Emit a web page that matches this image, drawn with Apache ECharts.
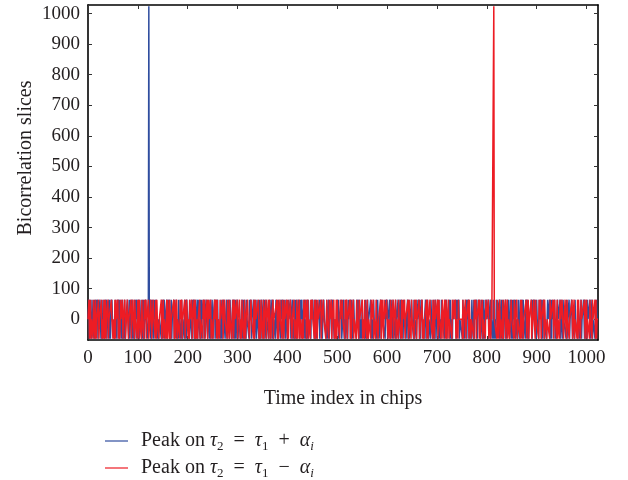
<!DOCTYPE html>
<html>
<head>
<meta charset="utf-8">
<script src="https://cdn.jsdelivr.net/npm/echarts@6/dist/echarts.min.js"></script>
<style>
  html, body { margin: 0; padding: 0; background: #fff; }
  #main { width: 628px; height: 480px; }
</style>
</head>
<body>
<div id="main"></div>
<script>
// tick labels
var xTicks = [0, 100, 200, 300, 400, 500, 600, 700, 800, 900, 1000];
var yTicks = [0, 100, 200, 300, 400, 500, 600, 700, 800, 900, 1000];

var seriesNames = ['Peak on τ2 = τ1 + αi', 'Peak on τ2 = τ1 − αi'];

// bicorrelation slice, peak at tau2 = tau1 + alpha_i (index 0..1023)
var bluePeak = [
  0,0,64,-64,64,0,0,-64, 64,0,0,0,-64,64,-64,-64, 64,0,0,64,-64,0,0,0, 64,64,-64,0,0,-64,64,0,
  0,-64,64,0,0,64,-64,0, 0,0,64,-64,64,-64,0,0, 64,0,0,0,0,-64,-64,64, 0,0,-64,64,0,0,64,-64,
  64,0,0,-64,64,-64,0,0, -64,64,64,-64,0,0,0,64, 0,0,-64,64,-64,0,0,0, 64,-64,0,0,-64,64,-64,64,
  0,0,64,-64,0,0,64,-64, 64,0,0,0,-64,64,0,-64, 64,-64,0,0,64,0,0,0, -64,0,1024,0,0,64,-64,64,
  -64,64,0,0,-64,64,0,0, 0,64,64,-64,0,0,-64,0, 0,0,0,-64,64,-64,64,0, 0,64,-64,0,0,0,64,-64,
  64,0,0,64,-64,0,-64,64, -64,0,0,0,64,-64,0,0, 0,64,-64,0,0,-64,64,0, 0,0,-64,-64,64,-64,0,0,
  0,-64,64,0,64,-64,64,64, 0,0,0,-64,64,0,0,0, -64,64,0,0,64,-64,0,64, -64,0,0,64,-64,64,0,0,
  0,-64,64,-64,64,0,0,0, 64,-64,0,0,0,64,0,0, -64,64,0,0,-64,64,-64,0, 0,64,-64,0,0,0,64,-64,
  -64,64,0,0,64,-64,0,0, 0,0,-64,64,64,-64,0,0, 64,0,0,-64,0,0,64,-64, 0,0,64,0,-64,64,0,0,
  0,-64,64,0,0,64,-64,-64, 64,-64,0,0,64,-64,0,0, 0,0,-64,0,0,64,-64,0, 64,-64,64,0,0,-64,64,0,
  0,0,0,-64,64,0,0,64, -64,0,0,0,64,64,-64,64, 0,0,-64,64,0,0,0,-64, 64,-64,0,0,64,-64,0,0,
  64,-64,64,0,0,-64,64,0, 0,0,-64,0,0,64,-64,0, 0,64,-64,64,-64,0,0,0, -64,64,0,0,0,-64,64,0,
  0,0,-64,64,0,0,64,-64, 64,0,0,0,-64,64,0,0, -64,-64,64,0,0,0,64,-64, 0,0,64,-64,0,0,-64,64,
  0,-64,64,-64,0,0,64,0, 0,-64,64,0,0,64,-64,0, 0,0,64,-64,0,0,-64,64, 64,-64,64,0,0,0,0,-64,
  64,0,0,64,0,0,-64,64, 0,-64,64,-64,-64,0,0,0, 64,-64,0,0,0,64,-64,0, 0,64,0,0,0,0,-64,64,
  -64,0,0,64,-64,0,0,0, 64,-64,64,64,0,0,-64,0, 0,0,-64,64,0,0,64,-64, 0,0,0,0,64,-64,-64,0,
  0,64,-64,0,0,-64,64,0, 0,-64,64,0,0,0,0,64, -64,64,-64,0,0,64,0,0, 0,0,-64,64,0,0,64,-64,
  0,64,-64,0,0,-64,64,0, 0,0,0,-64,-64,64,-64,0, 0,64,-64,0,0,0,0,64, 64,-64,0,0,-64,64,0,0,
  0,0,-64,64,-64,64,0,0, -64,0,0,64,-64,0,64,0, 0,0,0,0,-64,64,0,0, 64,-64,0,0,0,64,-64,-64,
  64,0,0,-64,64,0,0,0, -64,64,-64,0,0,0,64,-64, 0,0,64,-64,64,64,0,0, -64,64,0,0,0,0,-64,0,
  0,64,-64,0,64,-64,0,0, 0,64,0,0,0,-64,64,-64, 0,0,0,-64,64,0,0,0, 64,-64,64,-64,0,0,64,0,
  0,0,-64,0,0,64,-64,0, 0,64,64,-64,0,0,0,-64, 64,0,0,0,-64,64,-64,0, 0,64,-64,0,0,0,64,-64,
  64,-64,0,0,-64,64,0,0, 0,0,0,-64,64,0,0,64, -64,0,0,0,0,64,-64,64, -64,0,0,-64,64,0,0,0,
  0,0,64,-64,-64,64,0,0, 64,-64,0,0,0,0,0,-64, 64,0,0,-64,0,0,0,64, -64,64,0,0,64,-64,0,0,
  0,-64,64,0,0,-64,64,-64, 64,0,0,0,64,-64,0,0, 0,64,0,0,-64,64,0,0, -64,-64,64,-64,0,0,0,64,
  0,0,0,64,-64,0,0,64, -64,0,0,0,-64,64,64,-64, 0,0,-64,64,0,0,0,0, 0,64,-64,0,0,64,-64,0,
  -64,64,-64,0,0,0,64,-64, 0,0,0,64,0,0,-64,64, 0,0,-64,64,-64,64,0,0, 0,64,-64,0,0,0,-64,64,
  0,0,-64,64,0,0,0,64, -64,64,0,0,0,-64,64,0, 0,64,-64,0,-64,0,0,0, 0,0,64,-64,-64,64,0,0,
  64,0,0,-64,64,0,0,0, -64,64,0,0,0,64,-64,64, -64,0,0,64,-64,0,0,0, -64,0,64,0,0,0,64,-64,
  -64,64,-64,64,0,0,0,0, 64,-64,0,-64,0,0,64,0, 0,0,0,64,-64,64,0,0, -64,64,0,0,0,0,0,-64,
  64,-64,0,0,0,64,-64,0, 0,0,64,64,-64,0,0,0, -64,64,0,0,0,0,-64,64, 0,0,-64,0,0,64,-64,0,
  0,0,64,0,-64,64,-64,0, 0,-64,64,0,0,0,0,64, -64,0,0,64,-64,0,0,0, 0,-64,64,-64,64,0,0,0
];

// bicorrelation slice, peak at tau2 = tau1 - alpha_i
var redPeak = [
  0,0,64,-64,0,64,-64,0, 0,0,-64,64,0,0,-64,64, 64,-64,0,0,0,64,-64,0, 0,0,0,64,-64,0,0,-64,
  64,0,-64,64,-64,0,0,0, 64,-64,0,0,0,0,0,64, 0,0,-64,0,0,-64,64,-64, 64,0,0,0,64,-64,0,0,
  -64,64,0,0,0,64,-64,0, 0,0,64,-64,-64,0,0,64, 0,-64,0,0,0,0,64,-64, 0,0,64,0,0,-64,64,0,
  0,0,-64,0,64,64,-64,64, 0,0,0,-64,64,0,0,0, -64,64,0,0,64,-64,0,0, 0,64,-64,-64,0,0,64,0,
  -64,0,0,64,0,0,0,-64, 64,-64,64,0,0,0,-64,0, 0,0,0,64,-64,0,0,64, -64,0,0,0,-64,0,64,-64,
  64,0,0,-64,64,0,-64,0, 0,0,0,0,64,-64,64,-64, 0,0,64,-64,0,0,0,0, -64,64,0,0,64,-64,0,0,
  0,0,64,-64,0,0,64,0, 0,-64,0,-64,64,0,0,0, 64,-64,0,0,0,64,-64,64, 64,-64,0,0,-64,0,0,0,
  64,-64,0,0,0,0,-64,64, 0,0,64,-64,0,0,0,64, -64,-64,64,0,0,0,64,-64, 0,0,0,-64,0,0,64,0,
  0,64,-64,64,-64,0,0,0, -64,64,0,0,0,0,64,-64, 0,0,64,0,0,0,0,-64, 64,0,0,-64,64,0,0,0,
  -64,0,0,64,-64,-64,64,0, 0,0,0,64,-64,0,0,0, 64,-64,0,0,-64,64,0,0, 0,-64,64,64,-64,0,0,0,
  64,0,0,0,-64,0,0,64, 0,0,0,0,-64,64,-64,0, 64,0,0,0,0,0,64,-64, 0,0,-64,64,0,0,0,-64,
  64,-64,0,0,0,64,-64,0, 0,0,64,-64,64,0,0,-64, 0,0,0,64,-64,0,0,0, 0,0,0,64,-64,64,-64,0,
  0,64,0,0,0,-64,64,0, 0,-64,64,0,0,0,0,64, -64,64,-64,0,0,0,64,0, 0,-64,0,0,0,64,-64,0,
  0,0,-64,64,64,-64,0,0, 64,-64,0,0,0,-64,0,0, -64,64,0,0,0,64,-64,0, 0,64,-64,0,0,0,-64,64,
  0,0,64,0,0,0,-64,64, -64,64,0,0,-64,64,0,0, 0,0,0,64,-64,0,0,0, 64,0,0,0,0,-64,-64,64,
  0,0,0,-64,64,0,0,0, 64,-64,0,0,0,64,-64,0, 0,-64,64,-64,64,0,0,0, 0,-64,64,0,0,0,64,0,
  0,0,0,-64,64,0,0,64, -64,0,0,0,0,64,-64,64, -64,0,0,0,64,-64,0,0, 0,0,-64,64,0,0,0,-64,
  64,0,0,0,0,0,64,-64, 0,0,-64,64,0,0,0,-64, 64,64,-64,0,0,0,0,-64, 64,0,0,0,64,-64,0,0,
  0,-64,64,0,0,0,-64,0, 0,0,0,64,-64,-64,64,0, 0,-64,64,0,0,0,0,64, 0,0,-64,0,0,0,-64,64,
  -64,0,0,0,64,-64,0,0, 0,64,-64,0,0,0,-64,64, 0,0,0,0,-64,64,-64,64, 0,0,0,64,-64,0,0,0,
  0,0,64,-64,64,0,0,0, -64,64,0,0,0,0,-64,64, 0,0,64,-64,0,0,0,0, 64,-64,-64,0,0,0,64,-64,
  0,0,-64,0,0,0,0,64, -64,64,-64,0,0,0,64,0, 0,0,0,-64,64,0,0,-64, 64,0,0,0,0,64,-64,0,
  64,0,0,0,-64,0,0,64, -64,0,0,0,64,-64,64,64, -64,0,0,64,-64,0,0,0, 0,0,-64,64,0,0,0,64,
  0,64,-64,0,0,0,-64,64, 0,0,0,0,0,0,0,-64, 64,-64,0,0,0,64,-64,0, 0,0,0,64,-64,64,0,0,
  -64,0,0,0,0,0,-64,64, 0,0,64,-64,0,0,0,0, 64,-64,64,-64,0,0,0,64, -64,0,0,0,0,-64,64,0,
  0,0,0,64,-64,0,0,0, -64,64,0,0,0,0,1024,0, 0,0,0,0,-64,64,64,-64, 0,0,64,-64,0,0,0,-64,
  64,-64,0,0,0,64,-64,0, 0,64,-64,0,0,0,-64,0, 0,64,0,0,0,0,-64,64, -64,0,0,0,64,-64,0,0,
  0,0,0,-64,64,-64,64,0, 0,-64,0,0,0,0,0,64, -64,0,0,64,-64,0,0,0, 0,64,-64,-64,0,0,64,0,
  0,-64,64,0,0,0,0,0, -64,64,0,0,64,-64,0,0, 0,0,64,-64,64,0,0,0, -64,0,0,0,0,0,-64,64,
  0,0,0,0,0,64,-64,0, 64,0,0,0,-64,64,-64,0, 0,0,-64,64,0,0,0,64, 0,0,-64,0,0,64,0,0,
  -64,64,0,0,0,-64,0,0, 0,0,0,64,-64,0,0,64, -64,0,0,0,0,-64,64,-64, 64,0,0,0,-64,64,0,0,
  0,0,0,0,64,-64,0,0, 64,-64,0,0,0,0,-64,64, 0,0,0,-64,64,0,0,0, 0,64,-64,64,-64,0,0,0
];

var myChart = echarts.init(document.getElementById('main'));

var serif = '"Liberation Serif", "DejaVu Serif", serif';
var textColor = '#231f20';

function toPoints(arr){
    return arr.map(function(v, i){ return [i, v]; });
}

// legend text with italic greek letters and subscripts
var legendRich = {
    n: { fontFamily: serif, fontSize: 20, color: textColor, lineHeight: 24, verticalAlign: 'middle' },
    g: { fontFamily: serif, fontSize: 20, fontStyle: 'italic', color: textColor, lineHeight: 24, verticalAlign: 'middle' },
    s: { fontFamily: serif, fontSize: 13, color: textColor, lineHeight: 24, verticalAlign: 'bottom' },
    si: { fontFamily: serif, fontSize: 13, fontStyle: 'italic', color: textColor, lineHeight: 24, verticalAlign: 'bottom' }
};

function plainLabel(v){
    return String(v);
}

function baseX(pos, showLabel){
    return {
        type: 'value',
        position: pos,
        min: 0,
        max: 1023,
        axisLine: { show: true, onZero: false, lineStyle: { color: '#000', width: 1.6 } },
        axisTick: { show: true, inside: true, length: 4, customValues: xTicks, lineStyle: { color: '#333', width: 1 } },
        axisLabel: { show: showLabel, customValues: xTicks, formatter: plainLabel, margin: 9, fontFamily: serif, fontSize: 19, color: textColor },
        splitLine: { show: false }
    };
}
function baseY(pos, showLabel){
    return {
        type: 'value',
        position: pos,
        min: -68,
        max: 1028,
        axisLine: { show: true, onZero: false, lineStyle: { color: '#000', width: 1.6 } },
        axisTick: { show: true, inside: true, length: 4, customValues: yTicks, lineStyle: { color: '#333', width: 1 } },
        axisLabel: { show: showLabel, customValues: yTicks, formatter: plainLabel, margin: 8, fontFamily: serif, fontSize: 19, color: textColor },
        splitLine: { show: false }
    };
}

var xBottom = baseX('bottom', true);
xBottom.name = 'Time index in chips';
xBottom.nameLocation = 'middle';
xBottom.nameGap = 49;
xBottom.nameTextStyle = { fontFamily: serif, fontSize: 20, color: textColor };

function legendFor(name, top){
    return {
        orient: 'vertical',
        left: 100,
        top: top,
        icon: 'rect',
        itemWidth: 23,
        itemHeight: 1.2,
        data: [name],
        textStyle: { padding: [0, 0, 0, 8], rich: legendRich },
        formatter: function(n){
            var op = n.indexOf('+') >= 0 ? '+' : '\u2212';
            return '{n|Peak on }{g|\u03c4}{s|2}{n|  =  }{g|\u03c4}{s|1}{n|  ' + op + '  }{g|\u03b1}{si|i}';
        }
    };
}

var option = {
    animation: false,
    backgroundColor: '#fff',
    grid: { left: 88, right: 30, top: 5, bottom: 140, containLabel: false },
    xAxis: [xBottom, baseX('top', false)],
    yAxis: [baseY('left', true), baseY('right', false)],
    legend: [legendFor(seriesNames[0], 426), legendFor(seriesNames[1], 453)],
    graphic: [{
        type: 'text',
        x: 26,
        y: 158,
        rotation: Math.PI / 2,
        style: {
            text: 'Bicorrelation slices',
            fontFamily: serif,
            fontSize: 20,
            fill: textColor,
            align: 'center',
            verticalAlign: 'middle'
        }
    }],
    series: [
        {
            name: seriesNames[0],
            type: 'line',
            data: toPoints(bluePeak),
            showSymbol: false,
            lineStyle: { color: '#2f4d9f', width: 1.5 },
            itemStyle: { color: '#2f4d9f' }
        },
        {
            name: seriesNames[1],
            type: 'line',
            data: toPoints(redPeak),
            showSymbol: false,
            lineStyle: { color: '#ed1c24', width: 1.5 },
            itemStyle: { color: '#ed1c24' }
        }
    ]
};

myChart.setOption(option);
</script>
</body>
</html>
